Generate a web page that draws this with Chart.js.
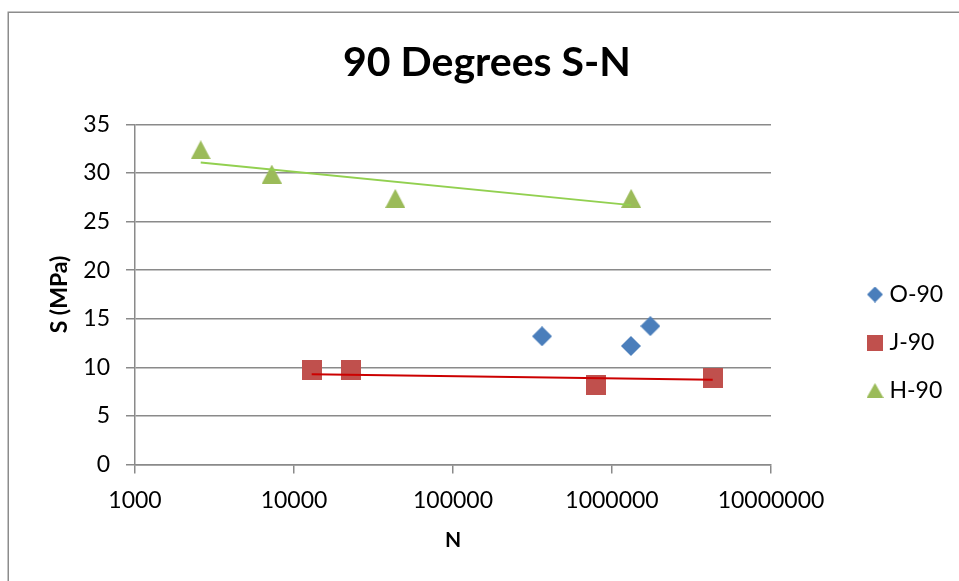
<!DOCTYPE html>
<html>
<head>
<meta charset="utf-8">
<title>90 Degrees S-N</title>
<script src="https://cdn.jsdelivr.net/npm/chart.js@4.4.0/dist/chart.umd.min.js"></script>
<style>
  html, body { margin: 0; padding: 0; background: #fff; }
  #wrap { width: 959px; height: 581px; }
</style>
</head>
<body>
<div id="wrap"><canvas id="sn"></canvas></div>
<script>
// fatigue results for the 90 degree specimens: cycles to failure (N) vs stress (S, MPa)
var seriesNames = ['O-90', 'J-90', 'H-90'];
var cyclesO = [363000, 1315000, 1742000];
var stressO = [13.2, 12.2, 14.25];
var cyclesJ = [12920, 22750, 789000, 4300000];
var stressJ = [9.7, 9.7, 8.2, 8.95];
var cyclesH = [2590, 7250, 43350, 1320000];
var stressH = [32.4, 29.9, 27.4, 27.4];

// trendline end points
var trendCyclesJ = [12920, 4300000];
var trendStressJ = [9.28, 8.72];
var trendCyclesH = [2590, 1320000];
var trendStressH = [31.1, 26.7];

var xTicks = [1000, 10000, 100000, 1000000, 10000000];
var yTicks = [0, 5, 10, 15, 20, 25, 30, 35];

var colors = ['#4A7EBB', '#C0504D', '#9BBB59'];
var gridColor = '#8a8a8a';
var FONT = 'Lato, "Open Sans", sans-serif';

function marker(shape, w, h, color) {
  var c = document.createElement('canvas');
  c.width = w;
  c.height = h;
  var g = c.getContext('2d');
  g.fillStyle = color;
  g.beginPath();
  if (shape === 'diamond') {
    g.moveTo(w / 2, 0); g.lineTo(w, h / 2); g.lineTo(w / 2, h); g.lineTo(0, h / 2);
  } else if (shape === 'square') {
    g.rect(0, 0, w, h);
  } else {
    g.moveTo(w / 2, 0); g.lineTo(w, h); g.lineTo(0, h);
  }
  g.closePath();
  g.fill();
  return c;
}

var plotMarks = [marker('diamond', 20, 20, colors[0]), marker('square', 20, 20, colors[1]), marker('triangle', 20, 19, colors[2])];
var legendMarks = [marker('diamond', 16, 16, colors[0]), marker('square', 16, 16, colors[1]), marker('triangle', 17, 15, colors[2])];

function pairs(xs, ys) {
  return xs.map(function (x, i) { return { x: x, y: ys[i] }; });
}

function trend(xs, ys, color) {
  return {
    label: 'trend', data: pairs(xs, ys), showLine: true,
    borderColor: color, borderWidth: 2, pointRadius: 0, fill: false
  };
}

function points(i, xs, ys) {
  return {
    label: seriesNames[i], data: pairs(xs, ys), showLine: false,
    pointStyle: plotMarks[i], pointRadius: 10, backgroundColor: colors[i], borderColor: colors[i]
  };
}

// outer frame, title centred on the whole frame, legend column pinned on the right
var frame = {
  id: 'frame',
  afterLayout: function (chart) {
    var lg = chart.legend;
    var w = lg.width, h = lg.height;
    lg.left = 847; lg.right = lg.left + w;
    lg.top = 258; lg.bottom = lg.top + h;
    var tb = chart.titleBlock;
    tb.left = 0; tb.right = 974; tb.width = 974;
  },
  beforeDraw: function (chart) {
    var ctx = chart.ctx;
    ctx.save();
    ctx.strokeStyle = '#8c8c8c';
    ctx.lineWidth = 1.5;
    ctx.strokeRect(8.25, 12.25, 1200, 1200);
    ctx.restore();
  }
};

new Chart(document.getElementById('sn'), {
  type: 'scatter',
  data: {
    datasets: [
      trend(trendCyclesH, trendStressH, '#92D050'),
      trend(trendCyclesJ, trendStressJ, '#CC0000'),
      points(0, cyclesO, stressO),
      points(1, cyclesJ, stressJ),
      points(2, cyclesH, stressH)
    ]
  },
  options: {
    responsive: true,
    maintainAspectRatio: false,
    animation: false,
    layout: { padding: { left: 0, right: 188, top: 0, bottom: 0 } },
    plugins: {
      tooltip: { enabled: false },
      title: {
        display: true,
        text: '90 Degrees S-N',
        color: '#000',
        font: { family: FONT, size: 41, weight: 'bold', lineHeight: 1.2 },
        padding: { top: 38, bottom: 37.3 }
      },
      legend: {
        position: 'chartArea',
        align: 'start',
        labels: {
          usePointStyle: true,
          pointStyleWidth: 6,
          padding: 25,
          color: '#000',
          font: { family: FONT, size: 23 },
          generateLabels: function () {
            return seriesNames.map(function (name, i) {
              return { text: name, pointStyle: legendMarks[i], fillStyle: colors[i], strokeStyle: colors[i], lineWidth: 0, hidden: false, datasetIndex: i + 2 };
            });
          }
        }
      }
    },
    scales: {
      x: {
        type: 'logarithmic',
        min: 1000,
        max: 10000000,
        afterBuildTicks: function (s) { s.ticks = xTicks.map(function (v) { return { value: v }; }); },
        afterFit: function (s) { s.height = 116.5; },
        ticks: {
          color: '#000', padding: 13, maxRotation: 0, autoSkip: false,
          font: { family: FONT, size: 23 },
          callback: function (v) { return String(v); }
        },
        grid: { drawOnChartArea: false, drawTicks: true, tickLength: 9, color: gridColor, lineWidth: 1.5 },
        border: { color: gridColor, width: 1.5 },
        title: {
          display: true, text: 'N', color: '#000',
          font: { family: FONT, size: 21, weight: 'bold' },
          padding: { top: 0, bottom: 28 }
        }
      },
      y: {
        min: 0,
        max: 35,
        afterBuildTicks: function (s) { s.ticks = yTicks.map(function (v) { return { value: v }; }); },
        afterFit: function (s) { s.width = 135; },
        ticks: { color: '#000', padding: 16, font: { family: FONT, size: 23 } },
        grid: { color: gridColor, lineWidth: 1.5, tickLength: 9 },
        border: { color: gridColor, width: 1.5 },
        title: {
          display: true, text: 'S (MPa)', color: '#000',
          font: { family: FONT, size: 23, weight: 'bold' },
          padding: { top: 46, bottom: 0 }
        }
      }
    }
  },
  plugins: [frame]
});
</script>
</body>
</html>
